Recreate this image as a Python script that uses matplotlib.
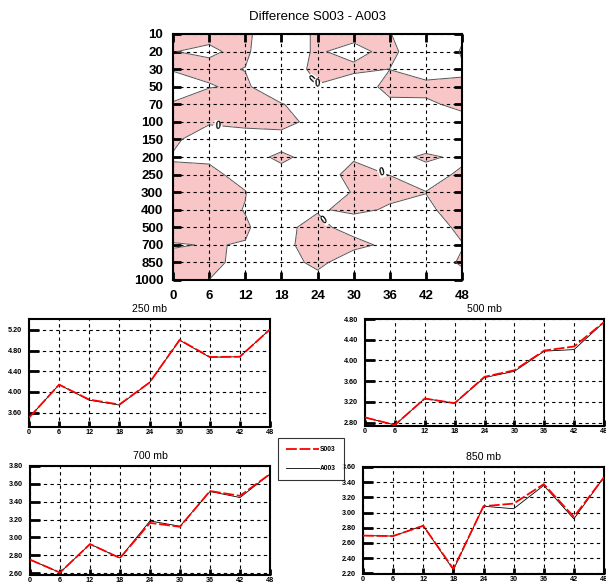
import numpy as np
import matplotlib
matplotlib.use("Agg")
import matplotlib.pyplot as plt

plt.rcParams['font.family'] = ['Liberation Sans', 'DejaVu Sans']

W, H = 606, 585

# ---- data -------------------------------------------------------------
hours = [0, 6, 12, 18, 24, 30, 36, 42, 48]
levels = [10, 20, 30, 50, 70, 100, 150, 200, 250, 300, 400, 500, 700, 850, 1000]

# S003 - A003 difference, one row per pressure level (top to bottom)
diff_10 = [-1.0, -0.3, -0.25, 1.0, -0.25, -1.5, -0.1, 2.0, 0.6]
diff_20 = [-0.025, 0.2, -0.35, 2.0, -0.5, 1.5, -1.5, 4.5, -0.4]
diff_30 = [-0.1, -0.36, 0.05, 1.0, -0.43, -1.0, 0.05, 1.0, 0.5]
diff_50 = [0.73, 0.1, -0.3, 1.5, 0.08, 3.0, -1.5, -0.6, -0.6]
diff_70 = [-0.13, -1.15, -1.0, -0.1, 1.0, 2.0, 1.0, 0.35, -0.5]
diff_100 = [-1.0, -0.2, -1.0, -1.0, 1.0, 2.0, 2.0, 1.0, 0.75]
diff_150 = [-0.32, 1.0, 1.8, 1.2, 2.0, 2.0, 2.0, 2.0, 2.0]
diff_200 = [0.14, 0.47, 1.0, -0.5, 1.0, 0.2, 1.0, -0.5, 0.6]
diff_250 = [-0.38, -0.7, 1.0, 0.85, 1.0, -0.6, 0.05, 1.2, -0.5]
diff_300 = [-1.0, -1.0, -0.1, 3.0, 1.0, -0.1, -1.0, -0.05, -1.0]
diff_400 = [-1.0, -1.0, 0.1, 1.0, 0.5, -1.0, 0.5, 0.5, -1.2]
diff_500 = [-1.0, -1.0, -0.28, 1.57, -2.0, 3.0, 1.0, 1.0, -0.43]
diff_700 = [0.15, -0.1, 0.1, 1.2, -2.0, -2.5, 2.0, 1.0, 0.09]
diff_850 = [-0.6, -0.8, 1.0, 4.6, -2.6, 6.0, 2.0, 1.0, -0.21]
diff_1000 = [-1.0, 0.02, 1.0, 3.0, 3.4, 4.0, 2.0, 1.0, 0.63]

# level series for the four panels
s003_250 = [3.50, 4.14, 3.85, 3.755, 4.18, 5.006, 4.675, 4.68, 5.21]
a003_250 = [3.50, 4.14, 3.84, 3.745, 4.18, 5.00, 4.67, 4.68, 5.21]
s003_500 = [2.90, 2.755, 3.265, 3.175, 3.684, 3.81, 4.19, 4.27, 4.74]
a003_500 = [2.90, 2.755, 3.265, 3.175, 3.67, 3.79, 4.18, 4.21, 4.74]
s003_700 = [2.752, 2.607, 2.926, 2.77, 3.163, 3.12, 3.52, 3.466, 3.71]
a003_700 = [2.752, 2.607, 2.926, 2.77, 3.185, 3.126, 3.515, 3.447, 3.71]
s003_850 = [2.696, 2.69, 2.826, 2.257, 3.083, 3.118, 3.374, 2.943, 3.465]
a003_850 = [2.696, 2.69, 2.826, 2.245, 3.083, 3.05, 3.357, 2.917, 3.465]

yticks_250 = [3.6, 4.0, 4.4, 4.8, 5.2]
yticks_500 = [2.8, 3.2, 3.6, 4.0, 4.4, 4.8]
yticks_700 = [2.6, 2.8, 3.0, 3.2, 3.4, 3.6, 3.8]
yticks_850 = [2.2, 2.4, 2.6, 2.8, 3.0, 3.2, 3.4, 3.6]

# ---- figure ----------------------------------------------------------
fig = plt.figure(figsize=(W / 100, H / 100), dpi=100)


def rect(l, t, r, b):
    return [l / W, 1 - b / H, (r - l) / W, (b - t) / H]


GRID = dict(color='black', linestyle=(0, (3, 3)), linewidth=0.8)
PINK = '#f8c6c7'

# contour panel
ax = fig.add_axes(rect(173, 34, 462, 280))
field = np.array([diff_10, diff_20, diff_30, diff_50, diff_70, diff_100,
                  diff_150, diff_200, diff_250, diff_300, diff_400,
                  diff_500, diff_700, diff_850, diff_1000])
yy = np.arange(len(levels))
lo, hi = field.min() - 1, field.max() + 1
ax.contourf(hours, yy, field, levels=[lo, 0, hi], colors=[PINK, 'white'], zorder=1)
cs = ax.contour(hours, yy, field, levels=[0], colors='#555555', linewidths=0.7, zorder=2)
lbl_pos = [(7.4, 5.3), (23.3, 2.55), (23.9, 3.0), (34.4, 8.1), (25.2, 10.6)]
labels = ax.clabel(cs, fmt={0: '0'}, manual=lbl_pos, inline=True, inline_spacing=2,
                   fontsize=7)
for t in labels:
    t.set_fontweight('bold')
    t.set_fontstyle('italic')
    t.set_color('black')
    t.set_bbox(dict(facecolor='white', edgecolor='none', pad=0.3))
ax.set_xlim(0, 48)
ax.set_ylim(len(levels) - 1, 0)
ax.set_xticks(hours)
ax.set_yticks(yy)
ax.set_yticklabels([str(v) for v in levels])
ax.grid(True, **GRID)
ax.tick_params(direction='in', length=6, width=2, top=True, right=True,
               labelsize=9.5, pad=7)
for t in ax.get_xticklabels() + ax.get_yticklabels():
    t.set_fontweight('bold')
for s in ax.spines.values():
    s.set_linewidth(1.5)
ax.set_title('Difference S003 - A003', fontsize=9.5, pad=10)

# line panels
panels = [
    ('250 mb', rect(29, 319, 270, 427), s003_250, a003_250, yticks_250, (3.32, 5.41)),
    ('500 mb', rect(365, 319, 604, 426), s003_500, a003_500, yticks_500, (2.735, 4.80)),
    ('700 mb', rect(30, 466, 270, 575), s003_700, a003_700, yticks_700, (2.58, 3.80)),
    ('850 mb', rect(363, 467, 604, 574), s003_850, a003_850, yticks_850, (2.19, 3.60)),
]
handles = None
for title, r, s, a, yt, yl in panels:
    axp = fig.add_axes(r)
    la, = axp.plot(hours, a, color='black', linewidth=0.6, zorder=3)
    ls, = axp.plot(hours, s, color='red', linewidth=1.3,
                   linestyle=(0, (6, 1.5)), zorder=4)
    handles = [ls, la]
    axp.set_xlim(0, 48)
    axp.set_ylim(*yl)
    axp.set_xticks(hours)
    axp.set_yticks(yt)
    axp.set_yticklabels(['%.2f' % v for v in yt])
    axp.grid(True, **GRID)
    axp.tick_params(axis='y', direction='in', length=7, width=2, labelsize=5.2, pad=5)
    axp.tick_params(axis='x', direction='in', length=4, width=2, labelsize=5.2, pad=1.5)
    for t in axp.get_xticklabels() + axp.get_yticklabels():
        t.set_fontweight('bold')
    for sp in axp.spines.values():
        sp.set_linewidth(1.5)
    axp.set_title(title, fontsize=7.6, pad=5)

leg = fig.legend(handles, ['S003', 'A003'], loc='upper left',
                 bbox_to_anchor=(278 / W, 1 - 438 / H),
                 frameon=True, fancybox=False, edgecolor='black',
                 prop={'size': 4.8, 'weight': 'bold'},
                 handlelength=5.0, handletextpad=0.1, labelspacing=1.8,
                 borderpad=1.2, borderaxespad=0)
leg.get_frame().set_linewidth(0.8)

fig.savefig('out.png', dpi=100)
